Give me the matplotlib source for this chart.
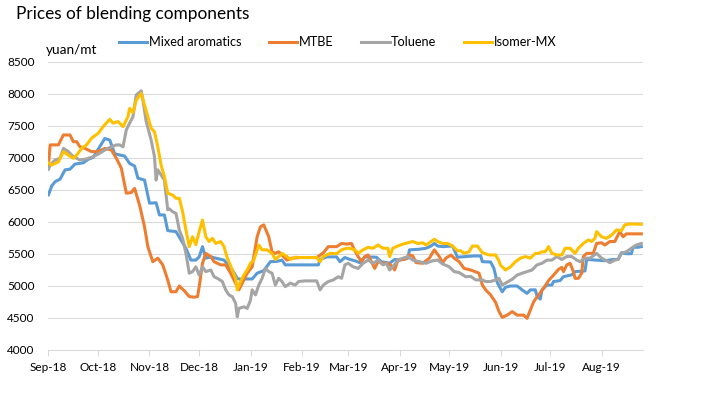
import matplotlib
matplotlib.use("Agg")
import matplotlib.pyplot as plt
import matplotlib.dates as mdates
import pandas as pd

plt.rcParams['font.family'] = ['Lato', 'DejaVu Sans']

start = pd.Timestamp('2018-09-01')
end = pd.Timestamp('2019-08-26')

# giorni dal 1 settembre 2018, prezzi in yuan/mt
mixed_days = [0, 2, 4, 7, 10, 13, 16, 21, 24, 27, 34, 37, 40, 46, 49, 52, 54, 58, 61, 65,
              67, 70, 72, 77, 80, 83, 86, 89, 91, 93, 95, 98, 101, 106, 111, 114, 117, 119, 123, 126,
              130, 134, 138, 141, 143, 163, 164, 168, 174, 176, 179, 182, 185, 188, 191, 198, 201, 206, 209, 212,
              217, 218, 224, 228, 231, 233, 235, 238, 244, 247, 257, 261, 262, 267, 269, 271, 274, 276, 279, 283,
              286, 289, 291, 294, 295, 297, 298, 301, 304, 305, 309, 311, 316, 318, 324, 325, 336, 341, 344, 346,
              349, 352, 353, 356, 358]
mixed = [6420, 6560, 6625, 6665, 6810, 6820, 6900, 6920, 6975, 7005, 7300, 7275, 7060, 7025, 6910, 6870, 6680, 6650, 6290, 6295,
         6105, 6105, 5860, 5845, 5715, 5585, 5400, 5400, 5450, 5610, 5430, 5450, 5430, 5400, 5245, 5115, 5090, 5105, 5105, 5195,
         5235, 5375, 5380, 5400, 5325, 5325, 5410, 5450, 5450, 5375, 5440, 5410, 5390, 5360, 5450, 5445, 5375, 5350, 5410, 5400,
         5430, 5560, 5570, 5585, 5620, 5660, 5620, 5610, 5620, 5445, 5465, 5465, 5375, 5370, 5270, 5050, 4905, 4975, 4995, 4995,
         4935, 4880, 4935, 4935, 4840, 4790, 4935, 5010, 5010, 5065, 5080, 5140, 5170, 5220, 5230, 5410, 5390, 5410, 5410, 5515,
         5500, 5500, 5600, 5600, 5610]

mtbe_days = [0, 1, 6, 9, 13, 15, 17, 19, 22, 26, 30, 34, 38, 41, 44, 47, 50, 52, 55, 58,
             60, 63, 66, 69, 72, 74, 77, 79, 82, 85, 88, 90, 91, 93, 95, 98, 100, 104, 107, 110,
             113, 115, 117, 120, 123, 126, 128, 130, 133, 135, 137, 139, 141, 144, 147, 152, 162, 166, 169, 174,
             177, 180, 183, 185, 187, 189, 191, 193, 195, 197, 199, 202, 205, 208, 209, 211, 215, 218, 220, 222,
             226, 230, 233, 236, 238, 240, 243, 245, 248, 251, 255, 260, 262, 264, 267, 270, 272, 274, 277, 280,
             283, 287, 289, 291, 293, 296, 299, 302, 305, 308, 310, 311, 313, 315, 317, 318, 320, 322, 323, 325,
             329, 331, 334, 336, 339, 342, 345, 347, 349, 358]
mtbe = [6890, 7200, 7200, 7355, 7355, 7250, 7250, 7170, 7145, 7095, 7095, 7145, 7120, 6990, 6835, 6445, 6455, 6520, 6260, 5920,
        5610, 5375, 5430, 5325, 5090, 4905, 4905, 4995, 4920, 4830, 4820, 4830, 4980, 5350, 5505, 5455, 5375, 5325, 5325, 5195,
        5040, 4935, 5040, 5195, 5295, 5765, 5920, 5950, 5765, 5530, 5505, 5530, 5480, 5400, 5430, 5440, 5440, 5515, 5610, 5610,
        5660, 5650, 5660, 5545, 5455, 5375, 5455, 5480, 5375, 5270, 5375, 5350, 5350, 5295, 5245, 5400, 5410, 5480, 5465, 5360,
        5350, 5430, 5560, 5455, 5360, 5430, 5480, 5430, 5375, 5270, 5245, 5195, 5010, 4935, 4855, 4740, 4600, 4505, 4540, 4595,
        4540, 4540, 4490, 4620, 4750, 4855, 4960, 5080, 5165, 5255, 5285, 5220, 5325, 5350, 5220, 5115, 5115, 5195, 5455, 5505,
        5505, 5660, 5670, 5635, 5690, 5690, 5845, 5765, 5810, 5810]

toluene_days = [0, 1, 4, 7, 9, 12, 15, 19, 22, 24, 27, 31, 34, 38, 41, 43, 45, 47, 49, 51,
                53, 56, 57, 59, 62, 64, 65, 66, 68, 70, 72, 73, 75, 77, 79, 81, 83, 85, 87, 89,
                91, 93, 95, 98, 100, 102, 105, 107, 109, 111, 113, 114, 115, 118, 120, 122, 123, 125, 127, 129,
                131, 133, 135, 137, 139, 141, 143, 146, 149, 151, 155, 162, 164, 166, 169, 172, 175, 177, 179, 181,
                184, 187, 190, 193, 196, 199, 202, 204, 206, 208, 211, 214, 217, 220, 224, 228, 232, 235, 238, 242,
                245, 248, 252, 255, 258, 262, 264, 267, 270, 272, 274, 276, 280, 283, 286, 289, 292, 295, 298, 301,
                304, 307, 310, 313, 316, 319, 321, 324, 327, 331, 334, 337, 339, 342, 344, 346, 349, 352, 355, 358]
toluene = [6820, 6885, 6965, 6990, 7145, 7095, 7015, 6965, 6975, 6990, 7015, 7070, 7120, 7170, 7200, 7200, 7170, 7435, 7540, 7640,
           7980, 8045, 7900, 7565, 7275, 7015, 6650, 6810, 6730, 6650, 6185, 6200, 6155, 6130, 5870, 5740, 5505, 5195, 5220, 5295,
           5165, 5295, 5220, 5245, 5140, 5115, 5065, 4935, 4855, 4830, 4725, 4515, 4645, 4670, 4645, 4775, 4935, 4855, 5010, 5115,
           5270, 5220, 5195, 5010, 5115, 5065, 4985, 5040, 5010, 5065, 5075, 5075, 4935, 5010, 5065, 5090, 5140, 5115, 5325, 5350,
           5295, 5270, 5350, 5400, 5350, 5400, 5325, 5350, 5245, 5295, 5400, 5430, 5455, 5400, 5375, 5350, 5390, 5400, 5340, 5295,
           5220, 5205, 5140, 5145, 5090, 5090, 5065, 5065, 5090, 5115, 5010, 5040, 5100, 5165, 5195, 5220, 5245, 5325, 5350, 5400,
           5400, 5455, 5410, 5455, 5455, 5400, 5375, 5430, 5430, 5505, 5430, 5390, 5360, 5400, 5410, 5505, 5530, 5585, 5635, 5660]

isomer_days = [0, 2, 6, 9, 12, 15, 17, 20, 23, 26, 30, 33, 37, 39, 42, 45, 48, 49, 51, 53,
               56, 58, 60, 62, 64, 66, 68, 70, 72, 75, 77, 79, 81, 83, 85, 87, 89, 91, 93, 95,
               97, 99, 101, 104, 106, 108, 111, 113, 114, 116, 118, 120, 122, 124, 126, 127, 129, 132, 135, 137,
               139, 141, 144, 146, 149, 152, 162, 164, 166, 170, 174, 177, 180, 182, 185, 187, 190, 193, 196, 199,
               202, 205, 206, 208, 211, 214, 217, 220, 223, 226, 228, 231, 233, 235, 238, 241, 244, 247, 249, 251,
               254, 256, 259, 262, 266, 270, 272, 273, 276, 279, 282, 285, 288, 291, 294, 296, 298, 300, 302, 304,
               307, 310, 312, 315, 318, 320, 323, 326, 328, 330, 331, 334, 337, 340, 343, 346, 348, 351, 358]
isomer = [6920, 6885, 6935, 7095, 7040, 6990, 7040, 7145, 7200, 7305, 7380, 7485, 7600, 7540, 7565, 7485, 7640, 7770, 7705, 7900,
          8005, 7825, 7640, 7460, 7405, 7170, 6885, 6705, 6445, 6415, 6365, 6365, 6155, 5870, 5610, 5765, 5640, 5845, 6025, 5765,
          5690, 5740, 5660, 5690, 5610, 5430, 5245, 5115, 4935, 5065, 5165, 5245, 5350, 5400, 5560, 5635, 5560, 5560, 5505, 5410,
          5455, 5505, 5455, 5410, 5445, 5440, 5440, 5375, 5455, 5505, 5500, 5560, 5585, 5585, 5560, 5505, 5560, 5600, 5585, 5635,
          5585, 5585, 5455, 5585, 5620, 5650, 5670, 5690, 5660, 5670, 5635, 5690, 5725, 5690, 5660, 5660, 5620, 5545, 5545, 5505,
          5530, 5620, 5620, 5515, 5480, 5480, 5390, 5320, 5245, 5295, 5375, 5430, 5455, 5430, 5505, 5505, 5530, 5530, 5610, 5505,
          5480, 5480, 5585, 5585, 5505, 5585, 5660, 5715, 5690, 5740, 5845, 5765, 5740, 5790, 5870, 5860, 5950, 5965, 5960]

series = [
    ('Mixed aromatics', mixed_days, mixed, '#5B9BD5'),
    ('MTBE', mtbe_days, mtbe, '#ED7D31'),
    ('Toluene', toluene_days, toluene, '#A5A5A5'),
    ('Isomer-MX', isomer_days, isomer, '#FFC000'),
]

fig = plt.figure(figsize=(7.11, 3.98), dpi=100)
ax = fig.add_axes([0.0682, 0.1214, 0.8361, 0.7236])

for name, days, vals, col in series:
    dates = start + pd.to_timedelta(days, unit='D')
    ax.plot(dates, vals, color=col, lw=2.2, label=name, solid_joinstyle='round')

ax.set_xlim(start, end)
ax.set_ylim(4000, 8500)
ax.set_yticks(range(4000, 8501, 500))
ax.xaxis.set_major_locator(mdates.MonthLocator())
ax.xaxis.set_major_formatter(mdates.DateFormatter('%b-%y'))

ax.grid(axis='y', color='#D9D9D9', lw=0.75)
ax.set_axisbelow(True)
for s in ['left', 'right', 'top']:
    ax.spines[s].set_visible(False)
ax.spines['bottom'].set_color('#D9D9D9')
ax.spines['bottom'].set_linewidth(0.75)
ax.tick_params(axis='y', length=0, pad=10, labelsize=8.5, labelcolor='black')
ax.tick_params(axis='x', length=4, width=0.75, color='#D9D9D9', pad=5, labelsize=8.5, labelcolor='black')

fig.text(16 / 711, 1 - 19.5 / 398, 'Prices of blending components', fontsize=12.4, va='baseline', ha='left')
fig.text(46 / 711, 1 - 54.5 / 398, 'yuan/mt', fontsize=9.8, va='baseline', ha='left')

fig.legend(loc='center', bbox_to_anchor=(0.475, 1 - 42 / 398), ncol=4, frameon=False, fontsize=9.2,
           handlelength=2.2, handletextpad=0.1, columnspacing=2.2, borderpad=0)

fig.savefig('out.png', dpi=100)
